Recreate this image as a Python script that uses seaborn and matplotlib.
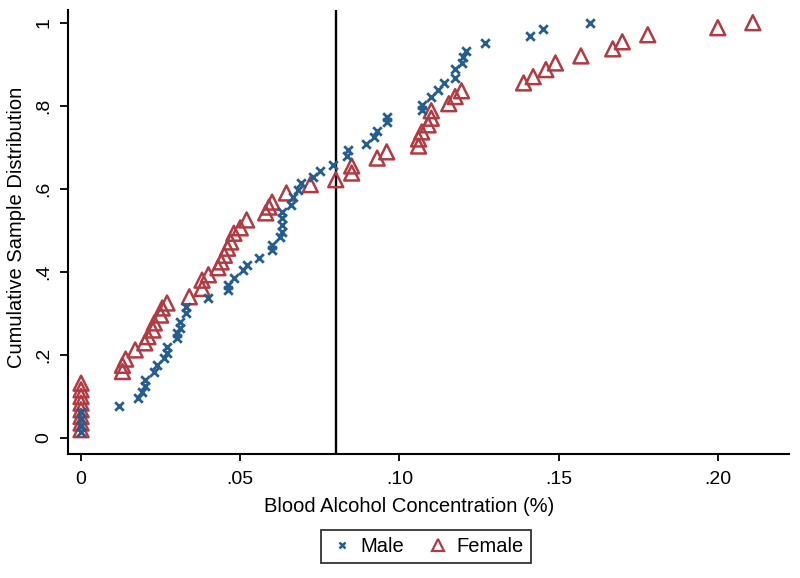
import pandas as pd
import matplotlib
matplotlib.use("Agg")
import matplotlib.pyplot as plt
from matplotlib.lines import Line2D
import seaborn as sns

# Blood alcohol concentration (%) and cumulative share
male_bac = [0, 0, 0, 0, 0.012, 0.018, 0.019, 0.020, 0.020,
            0.023, 0.024, 0.026, 0.027, 0.027, 0.030, 0.030, 0.031, 0.031, 0.033, 0.033,
            0.040, 0.046, 0.046, 0.048, 0.051, 0.052, 0.056, 0.060, 0.060, 0.0625,
            0.063, 0.063, 0.063, 0.063, 0.066, 0.0666, 0.068,
            0.069, 0.073, 0.075, 0.079, 0.0835, 0.084, 0.0895, 0.092, 0.093, 0.096, 0.096,
            0.107, 0.107, 0.110, 0.112, 0.114, 0.1175, 0.1175, 0.1195, 0.120, 0.121,
            0.127, 0.141, 0.145, 0.160]
male_cum = [0.015, 0.030, 0.046, 0.062, 0.077, 0.096, 0.111, 0.125, 0.140,
            0.160, 0.176, 0.192, 0.205, 0.220, 0.240, 0.253, 0.265, 0.280, 0.300, 0.316,
            0.337, 0.357, 0.369, 0.386, 0.405, 0.417, 0.433, 0.453, 0.465, 0.484,
            0.497, 0.513, 0.529, 0.543, 0.561, 0.580, 0.597,
            0.614, 0.629, 0.643, 0.658, 0.680, 0.694, 0.708, 0.725, 0.740, 0.761, 0.774,
            0.790, 0.802, 0.822, 0.839, 0.855, 0.868, 0.889, 0.904, 0.918, 0.933,
            0.952, 0.969, 0.984, 1.000]

female_bac = [0, 0, 0, 0, 0, 0, 0, 0, 0.013, 0.013, 0.014,
              0.017, 0.020, 0.021, 0.0226, 0.023, 0.025, 0.0255, 0.027,
              0.034, 0.038, 0.038, 0.040, 0.043, 0.044, 0.045, 0.046, 0.047, 0.048,
              0.050, 0.052, 0.058, 0.059, 0.060, 0.0645,
              0.072, 0.080, 0.085, 0.085, 0.093, 0.096,
              0.106, 0.106, 0.107, 0.109, 0.110, 0.110,
              0.1155, 0.1175, 0.1195,
              0.139, 0.142, 0.146, 0.149, 0.157, 0.167, 0.170, 0.178, 0.200, 0.211]
female_cum = [0.020, 0.036, 0.052, 0.068, 0.084, 0.100, 0.116, 0.132, 0.160, 0.175, 0.190,
              0.212, 0.229, 0.244, 0.260, 0.277, 0.296, 0.313, 0.325,
              0.340, 0.360, 0.380, 0.393, 0.410, 0.424, 0.440, 0.457, 0.472, 0.493,
              0.506, 0.525, 0.542, 0.556, 0.568, 0.590,
              0.610, 0.622, 0.638, 0.655, 0.674, 0.689,
              0.703, 0.720, 0.737, 0.754, 0.770, 0.788,
              0.805, 0.822, 0.836,
              0.855, 0.870, 0.887, 0.903, 0.920, 0.937, 0.954, 0.971, 0.988, 1.000]

legal_limit = 0.08
x_ticks = [0, 0.05, 0.10, 0.15, 0.20]
x_ticklabels = ["0", ".05", ".10", ".15", ".20"]
y_ticks = [0, 0.2, 0.4, 0.6, 0.8, 1.0]
y_ticklabels = ["0", ".2", ".4", ".6", ".8", "1"]

blue = "#245d8f"
red = "#b23a42"

sns.set_style("ticks")
plt.rcParams["font.family"] = ["Liberation Sans", "DejaVu Sans"]
plt.rcParams["text.color"] = "black"
plt.rcParams["axes.labelcolor"] = "black"

male = pd.DataFrame({"bac": male_bac, "cum": male_cum})
female = pd.DataFrame({"bac": female_bac, "cum": female_cum})

fig = plt.figure(figsize=(8, 5.78), dpi=100)
ax = fig.add_axes([0.085, 0.2145, 0.901, 0.7685])

ax.axvline(legal_limit, color="black", lw=1.7, zorder=1)

sns.scatterplot(data=male, x="bac", y="cum", ax=ax, marker="x", s=38,
                color=blue, linewidth=2.0, zorder=3)
sns.scatterplot(data=female, x="bac", y="cum", ax=ax, marker="^", s=115,
                facecolor="none", edgecolor=red, linewidth=1.8, zorder=2)

ax.set_xlim(-0.0041, 0.2223)
ax.set_ylim(-0.0386, 1.031)
ax.set_xticks(x_ticks)
ax.set_xticklabels(x_ticklabels)
ax.set_yticks(y_ticks)
ax.set_yticklabels(y_ticklabels, rotation=90, va="center")

for s in ["top", "right"]:
    ax.spines[s].set_visible(False)
for s in ["left", "bottom"]:
    ax.spines[s].set_linewidth(1.5)
    ax.spines[s].set_color("black")

ax.tick_params(axis="y", length=6, width=1.3, labelsize=14, pad=5, colors="black")
ax.tick_params(axis="x", length=5, width=1.3, labelsize=14, pad=7, colors="black")

ax.set_xlabel("Blood Alcohol Concentration (%)", fontsize=14.5)
ax.set_ylabel("Cumulative Sample Distribution", fontsize=14.5)
ax.xaxis.set_label_coords(0.473, -0.097)
ax.yaxis.set_label_coords(-0.058, 0.51)

handles = [
    Line2D([], [], ls="none", marker="x", color=blue, markersize=5, mew=1.8),
    Line2D([], [], ls="none", marker="^", markerfacecolor="none",
           markeredgecolor=red, markersize=8, mew=1.6),
]
leg = fig.legend(handles, ["Male", "Female"], loc="center",
                 bbox_to_anchor=(426 / 800, 0.055), ncol=2, fontsize=14.5,
                 frameon=True, fancybox=False, edgecolor="black",
                 handletextpad=0.2, columnspacing=1.0, borderpad=0.35,
                 handlelength=1.4)
leg.get_frame().set_linewidth(1.3)

fig.savefig("out.png", dpi=100, facecolor="white")
